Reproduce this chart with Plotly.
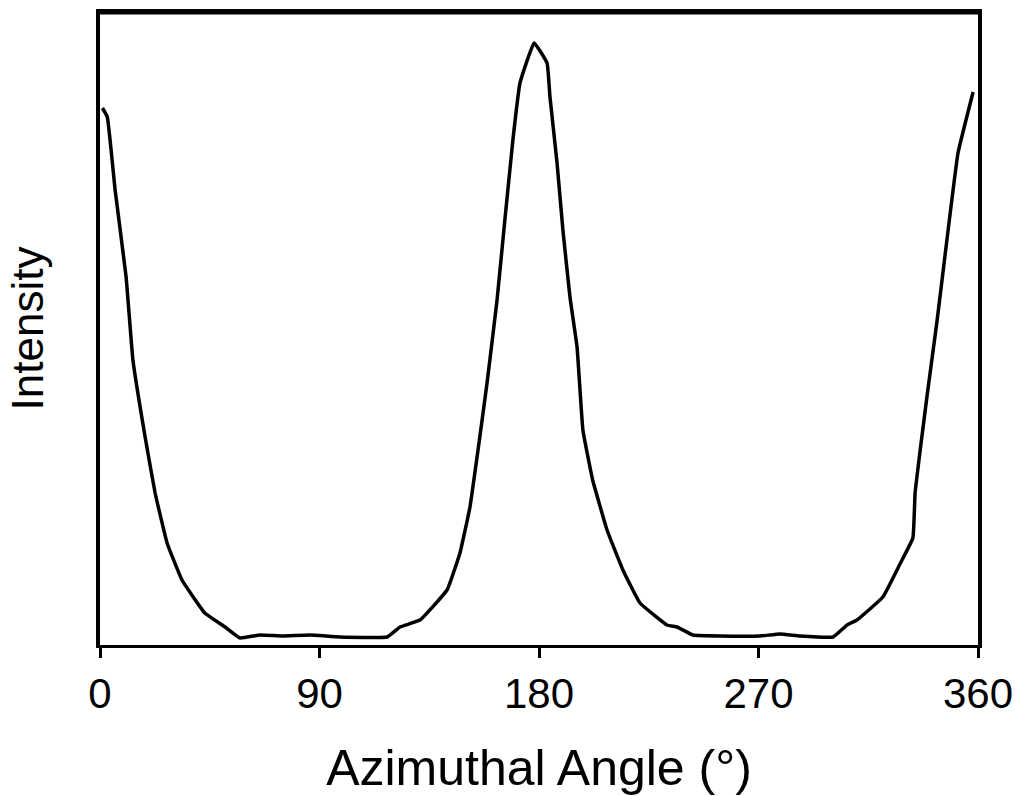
import plotly.graph_objects as go

# Azimuthal angle (degrees) and intensity (arbitrary units)
angle = [1, 3, 6.2, 10.7, 13.5, 18.5, 22.6, 27.5, 33.6, 43, 51.3, 57.4, 65.6, 74.6,
         86.1, 98.4, 117.7, 123, 131.2, 142.3, 147.6, 151.7, 155, 158.7, 162.8, 166,
         169.3, 172.2, 178, 183.3, 184.5, 187.4, 189.8, 192.7, 195.6, 198, 202, 207.9,
         214.4, 221.4, 232.5, 236.6, 243.2, 254.3, 270.6, 278.8, 287, 300.6, 306.3,
         310.4, 321, 328, 333.3, 334.2, 336.2, 339.1, 343.2, 347.3, 351.8, 358]
intensity = [537, 528, 455, 368, 285, 208, 152, 102, 65, 32, 18, 7, 10, 9,
             10, 8, 8, 18, 25, 55, 92, 138, 195, 262, 345, 425,
             505, 562, 602, 582, 548, 482, 415, 348, 298, 215, 165, 115,
             75, 42, 20, 18, 10, 9, 9, 11, 9, 8, 20,
             25, 48, 81, 107, 152, 193, 249, 324, 406, 492, 553]

x_ticks = [0, 90, 180, 270, 360]
x_title = "Azimuthal Angle (°)"
y_title = "Intensity"

FONT = "Liberation Sans, Arial, sans-serif"

fig = go.Figure()
fig.add_trace(go.Scatter(x=angle, y=intensity, mode="lines",
                         line=dict(color="black", width=3.5, shape="spline",
                                   smoothing=0.3),
                         hoverinfo="skip", showlegend=False))

fig.update_layout(
    width=1015, height=796,
    margin=dict(l=100, r=37, t=12, b=151),
    paper_bgcolor="white", plot_bgcolor="white",
    font=dict(family=FONT, color="black"),
    xaxis=dict(range=[0, 360], tickvals=x_ticks, ticktext=[str(v) for v in x_ticks],
               automargin=False,
               showgrid=False, zeroline=False, showline=True, linecolor="black",
               linewidth=3, mirror=True, ticks="outside", ticklen=10, tickwidth=3,
               tickcolor="black", tickfont=dict(size=42, family=FONT),
               title=dict(text=x_title, font=dict(size=50, family=FONT), standoff=38)),
    yaxis=dict(range=[0, 633], automargin=False, showgrid=False, zeroline=False,
               showline=True,
               linecolor="black", linewidth=4, mirror=True, showticklabels=False,
               ticks="", title=dict(text=y_title, font=dict(size=44, family=FONT),
                                    standoff=40)),
)
# thicker top border as in the reference
fig.add_shape(type="line", xref="paper", yref="paper", x0=0, x1=1, y0=1, y1=1,
              line=dict(color="black", width=5))

fig.write_html("out.html")
